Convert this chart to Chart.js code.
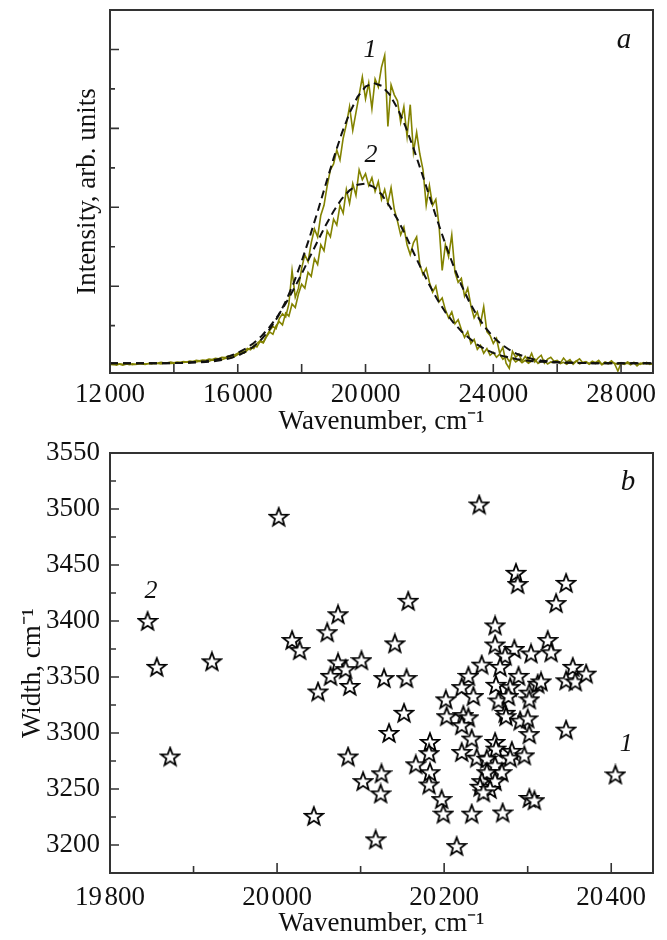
<!DOCTYPE html>
<html>
<head>
<meta charset="utf-8">
<script src="https://cdn.jsdelivr.net/npm/chart.js@4.4.1/dist/chart.umd.min.js"></script>
<style>
  html, body { margin: 0; padding: 0; background: #fff; }
  body { width: 667px; height: 940px; position: relative; overflow: hidden; }
  .panel { position: absolute; left: 0; width: 667px; }
  #boxA { top: 0; height: 440px; }
  #boxB { top: 420px; height: 520px; }
</style>
</head>
<body>
<div class="panel" id="boxA"><canvas id="chartA"></canvas></div>
<div class="panel" id="boxB"><canvas id="chartB"></canvas></div>
<script>
// ---- panel a: measured spectra, sampled every 100 cm-1 from 12000 ----
const specStart = 12000, specStep = 100;
const spec1 = [
  0.02,0.01,0.03,0.02,0.00,0.02,0.03,0.01,0.02,0.04,
  0.03,0.02,0.04,0.03,0.05,0.04,0.03,0.06,0.05,0.04,
  0.05,0.06,0.05,0.07,0.08,0.06,0.09,0.08,0.10,0.09,
  0.11,0.10,0.13,0.12,0.15,0.14,0.17,0.19,0.18,0.22,
  0.27,0.31,0.30,0.38,0.44,0.42,0.55,0.62,0.58,0.74,
  0.88,0.98,0.92,1.18,1.30,1.22,1.55,2.40,1.72,1.95,
  2.45,2.80,2.62,3.10,3.45,3.25,3.80,4.05,4.55,4.95,
  5.10,5.45,5.20,5.75,6.10,6.55,5.95,6.40,6.85,7.30,
  6.75,7.15,6.50,7.25,7.05,7.55,7.85,6.05,7.10,6.85,
  6.70,6.15,6.55,5.80,6.60,5.40,5.90,5.35,4.95,4.05,
  4.55,4.05,4.20,3.55,2.40,3.05,2.75,3.30,2.35,2.10,
  2.20,1.75,1.95,1.50,1.20,1.35,1.05,1.48,0.85,0.75,
  0.55,0.68,0.30,0.45,0.05,-0.08,0.35,0.20,0.28,0.10,
  0.22,0.12,0.30,0.08,0.18,0.25,0.05,0.15,0.20,0.10,
  0.12,0.05,0.18,0.08,0.14,0.02,0.10,0.16,0.06,0.09,
  0.04,0.10,0.06,0.12,0.02,0.08,0.05,0.11,0.03,-0.15,
  0.05,0.02,0.08,0.04,0.06,-0.02,0.05,0.03,0.07,0.02,0.04
];
const spec2 = [
  0.03,0.02,0.00,0.03,0.02,0.04,0.01,0.03,0.02,0.03,
  0.05,0.03,0.04,0.06,0.04,0.05,0.07,0.05,0.06,0.08,
  0.06,0.08,0.07,0.09,0.08,0.10,0.09,0.12,0.11,0.13,
  0.12,0.15,0.14,0.17,0.16,0.20,0.19,0.23,0.22,0.26,
  0.30,0.35,0.33,0.42,0.39,0.50,0.46,0.60,0.56,0.72,
  0.84,0.78,1.00,1.10,1.02,1.32,1.24,1.55,1.46,1.80,
  2.05,1.95,2.35,2.25,2.70,2.55,3.05,2.90,3.40,3.25,
  3.70,3.55,4.05,3.85,4.45,4.10,4.60,4.30,4.95,4.70,
  4.85,4.55,4.75,4.40,4.65,4.20,4.45,4.10,4.50,3.95,
  3.65,3.30,3.50,3.05,2.80,3.10,3.25,2.55,2.30,2.45,
  2.10,1.85,2.00,1.60,1.70,1.40,1.20,1.35,1.05,1.15,
  0.90,0.70,0.85,0.55,0.65,0.40,0.50,0.30,0.42,0.25,
  0.32,0.20,0.28,0.15,0.22,0.10,0.18,0.08,0.14,0.06,
  0.12,0.05,0.10,0.15,0.04,0.09,0.12,0.03,0.08,0.06,
  0.10,0.04,0.07,0.02,0.09,0.05,0.11,0.03,0.06,0.08,
  0.02,0.07,0.04,0.09,0.01,0.06,0.03,0.08,0.05,0.02,
  0.06,0.03,0.05,0.01,0.07,0.04,0.02,0.06,0.03,0.05,0.02
];

// fitted curves (dashed), every 250 cm-1 from 12000
const fitStart = 12000, fitStep = 250;
const fit1 = [
  0.05,0.05,0.05,0.05,0.05,0.05,0.05,0.05,0.05,0.055,
  0.06,0.066,0.078,0.098,0.127,0.17,0.24,0.34,0.47,0.66,
  0.91,1.22,1.61,2.08,2.63,3.24,3.89,4.57,5.24,5.86,
  6.39,6.80,7.06,7.15,7.08,6.86,6.51,6.05,5.50,4.90,
  4.28,3.66,3.07,2.52,2.03,1.60,1.24,0.95,0.71,0.53,
  0.39,0.28,0.21,0.15,0.117,0.093,0.076,0.066,0.06,0.055,
  0.05,0.05,0.05,0.05,0.05,0.05,0.05,0.05,0.05
];
const fit2 = [
  0.05,0.05,0.05,0.05,0.05,0.05,0.05,0.05,0.055,0.06,
  0.07,0.082,0.10,0.13,0.17,0.23,0.31,0.42,0.56,0.74,
  0.97,1.24,1.56,1.92,2.31,2.73,3.14,3.54,3.90,4.21,
  4.43,4.57,4.60,4.52,4.33,4.03,3.70,3.30,2.86,2.43,
  2.03,1.66,1.34,1.08,0.86,0.68,0.52,0.40,0.31,0.24,
  0.19,0.15,0.12,0.10,0.085,0.075,0.068,0.062,0.058,0.055,
  0.05,0.05,0.05,0.05,0.05,0.05,0.05,0.05,0.05
];

const xTicksA = [12000, 16000, 20000, 24000, 28000];
const xMinorA = [14000, 18000, 22000, 26000];
const yMajorA = [2, 4, 6, 8];
const yMinorA = [1, 3, 5, 7];

// ---- panel b: peak position vs width ----
const starX = [
  20002,20242,19845,19856,19872,20405,20286,20288,20346,19922,
  20073,20060,20018,20027,20073,20101,20082,20064,20087,20049,
  20141,20128,20155,20152,20134,20085,20103,20125,20124,20044,
  20118,20215,20157,20334,20261,20261,20284,20273,20304,20324,
  20328,20245,20267,20229,20289,20221,20235,20202,20203,20223,
  20229,20221,20262,20279,20265,20277,20302,20302,20312,20316,
  20273,20274,20291,20300,20302,20346,20354,20346,20357,20370,
  20183,20182,20183,20182,20166,20197,20199,20233,20270,20302,
  20308,20233,20221,20239,20261,20262,20281,20279,20296,20251,
  20261,20269,20251,20245,20261,20243,20255,20247
];
const starY = [
  3493,3504,3400,3359,3279,3263,3443,3433,3434,3364,
  3406,3390,3383,3374,3363,3365,3357,3351,3342,3337,
  3380,3349,3349,3318,3300,3279,3257,3264,3246,3226,
  3205,3199,3418,3416,3396,3379,3375,3369,3371,3383,
  3372,3361,3359,3351,3351,3341,3333,3330,3315,3316,
  3314,3307,3343,3341,3329,3333,3336,3330,3344,3346,
  3318,3315,3311,3313,3299,3303,3359,3347,3346,3353,
  3292,3282,3265,3254,3272,3241,3228,3228,3229,3242,
  3240,3295,3283,3278,3292,3286,3284,3278,3280,3277,
  3271,3265,3265,3257,3257,3252,3250,3247
];

const xTicksB = [19800, 20000, 20200, 20400];
const xMinorB = [19900, 20100, 20300];
const yTicksB = [3200, 3250, 3300, 3350, 3400, 3450, 3500, 3550];
const yMinorB = [3225, 3275, 3325, 3375, 3425, 3475, 3525];

const olive = '#838300';
const ink = '#111';
const serif = '"Liberation Serif", "Times New Roman", serif';
Chart.defaults.font.family = serif;
Chart.defaults.color = ink;

// small gap between thousands, as in the figure
function fmtThousands(v) {
  const s = String(v);
  return s.length > 4 ? s.slice(0, s.length - 3) + '\u200A' + s.slice(-3) : s;
}

function series(start, step, values) {
  return values.map((v, i) => ({ x: start + i * step, y: v }));
}

// box frame, inward ticks and panel notes
const framePlugin = {
  id: 'frame',
  afterDatasetsDraw(chart, args, opts) {
    const { ctx, chartArea: a, scales } = chart;
    ctx.save();
    ctx.strokeStyle = '#333';
    ctx.lineWidth = 1.6;
    ctx.beginPath();
    opts.xMarks.forEach(([list, len]) => list.forEach(v => {
      const x = scales.x.getPixelForValue(v);
      ctx.moveTo(x, a.bottom); ctx.lineTo(x, a.bottom - len);
    }));
    opts.yMarks.forEach(([list, len]) => list.forEach(v => {
      const y = scales.y.getPixelForValue(v);
      ctx.moveTo(a.left, y); ctx.lineTo(a.left + len, y);
    }));
    ctx.stroke();
    ctx.lineWidth = 2;
    ctx.strokeRect(a.left, a.top, a.right - a.left, a.bottom - a.top);
    ctx.fillStyle = ink;
    ctx.textAlign = 'center';
    ctx.textBaseline = 'middle';
    opts.notes.forEach(n => {
      ctx.font = 'italic ' + n.size + 'px ' + serif;
      ctx.fillText(n.text, scales.x.getPixelForValue(n.x), scales.y.getPixelForValue(n.y));
    });
    ctx.restore();
  }
};

const tickFont = { size: 27 };
const titleFont = { size: 27 };

new Chart(document.getElementById('chartA'), {
  type: 'line',
  data: {
    datasets: [
      { data: series(fitStart, fitStep, fit1), borderColor: ink, borderWidth: 2, borderDash: [8, 5], pointRadius: 0, order: 1 },
      { data: series(fitStart, fitStep, fit2), borderColor: ink, borderWidth: 2, borderDash: [8, 5], pointRadius: 0, order: 2 },
      { data: series(specStart, specStep, spec1), borderColor: olive, borderWidth: 1.6, pointRadius: 0, order: 3 },
      { data: series(specStart, specStep, spec2), borderColor: olive, borderWidth: 1.6, pointRadius: 0, order: 4 }
    ]
  },
  options: {
    responsive: true,
    maintainAspectRatio: false,
    animation: false,
    layout: { padding: { top: 10, right: 14, bottom: 0, left: 0 } },
    plugins: {
      legend: { display: false },
      tooltip: { enabled: false },
      frame: {
        xMarks: [[xTicksA, 9], [xMinorA, 9]],
        yMarks: [[yMajorA, 9], [yMinorA, 5]],
        notes: [
          { text: '1', x: 20141, y: 7.97, size: 26 },
          { text: '2', x: 20172, y: 5.32, size: 26 },
          { text: 'a', x: 28094, y: 8.23, size: 29 }
        ]
      }
    },
    scales: {
      x: {
        type: 'linear', min: 12000, max: 29000,
        afterBuildTicks: s => { s.ticks = xTicksA.map(v => ({ value: v })); },
        afterFit: s => { s.height = 67; },
        grid: { display: false, drawTicks: false },
        border: { display: false },
        ticks: { font: tickFont, color: ink, padding: 6, maxRotation: 0, autoSkip: false, callback: v => fmtThousands(v) },
        title: { display: true, text: 'Wavenumber, cm\u207B\u00B9', font: titleFont, color: ink, padding: { top: 0, bottom: 2 } }
      },
      y: {
        type: 'linear', min: -0.2, max: 9,
        afterFit: s => { s.width = 110; },
        grid: { display: false, drawTicks: false },
        border: { display: false },
        ticks: { display: false },
        title: { display: true, text: 'Intensity, arb. units', font: titleFont, color: ink, padding: { top: 72, bottom: 0 } }
      }
    }
  },
  plugins: [framePlugin]
});

// white five-pointed star with black outline
function makeStar() {
  const c = document.createElement('canvas');
  c.width = 22; c.height = 22;
  const g = c.getContext('2d');
  g.beginPath();
  for (let k = 0; k < 10; k++) {
    const r = k % 2 ? 4 : 9.5;
    const ang = -Math.PI / 2 + k * Math.PI / 5;
    const px = 11 + r * Math.cos(ang), py = 11.8 + r * Math.sin(ang);
    if (k) g.lineTo(px, py); else g.moveTo(px, py);
  }
  g.closePath();
  g.fillStyle = '#fff';
  g.fill();
  g.lineWidth = 1.8;
  g.strokeStyle = '#000';
  g.stroke();
  return c;
}
const starImg = makeStar();

new Chart(document.getElementById('chartB'), {
  type: 'scatter',
  data: {
    datasets: [{
      data: starX.map((x, i) => ({ x: x, y: starY[i] })),
      pointStyle: starImg,
      pointRadius: 9,
      pointHoverRadius: 9
    }]
  },
  options: {
    responsive: true,
    maintainAspectRatio: false,
    animation: false,
    layout: { padding: { top: 33, right: 14, bottom: 0, left: 0 } },
    plugins: {
      legend: { display: false },
      tooltip: { enabled: false },
      frame: {
        xMarks: [[xTicksB, 10], [xMinorB, 7]],
        yMarks: [[yTicksB, 9], [yMinorB, 6]],
        notes: [
          { text: '2', x: 19849, y: 3427, size: 26 },
          { text: '1', x: 20418, y: 3290, size: 26 },
          { text: 'b', x: 20420, y: 3524, size: 29 }
        ]
      }
    },
    scales: {
      x: {
        type: 'linear', min: 19800, max: 20450,
        afterBuildTicks: s => { s.ticks = xTicksB.map(v => ({ value: v })); },
        afterFit: s => { s.height = 67; },
        grid: { display: false, drawTicks: false },
        border: { display: false },
        ticks: { font: tickFont, color: ink, padding: 9, maxRotation: 0, autoSkip: false, callback: v => fmtThousands(v) },
        title: { display: true, text: 'Wavenumber, cm\u207B\u00B9', font: titleFont, color: ink, padding: { top: 0, bottom: 0 } }
      },
      y: {
        type: 'linear', min: 3175, max: 3550,
        afterBuildTicks: s => { s.ticks = yTicksB.map(v => ({ value: v })); },
        afterFit: s => { s.width = 110; },
        grid: { display: false, drawTicks: false },
        border: { display: false },
        ticks: { font: tickFont, color: ink, padding: 10, autoSkip: false, callback: v => String(v) },
        title: { display: true, text: 'Width, cm\u207B\u00B9   ', font: titleFont, color: ink, padding: { top: 17, bottom: 0 } }
      }
    }
  },
  plugins: [framePlugin]
});
</script>
</body>
</html>
